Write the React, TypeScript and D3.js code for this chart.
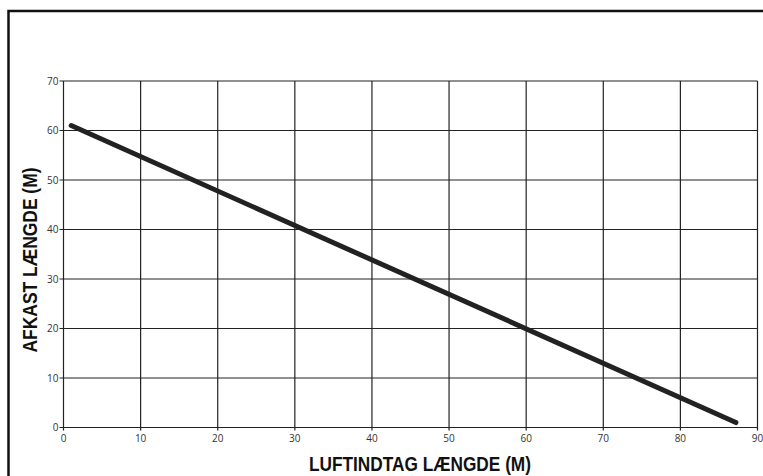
import * as React from 'react';
import * as d3 from 'd3';

const xTicks = [0, 10, 20, 30, 40, 50, 60, 70, 80, 90];
const yTicks = [0, 10, 20, 30, 40, 50, 60, 70];
const luftindtag = [1, 87.2];
const afkast = [61, 1];

const W = 763, H = 476;
const m = { left: 63.5, top: 81, right: 757.5, bottom: 427.5 };

export default function App() {
  const x = d3.scaleLinear().domain([0, 90]).range([m.left, m.right]);
  const y = d3.scaleLinear().domain([0, 70]).range([m.bottom, m.top]);
  const pts: [number, number][] = luftindtag.map((v, i) => [v, afkast[i]]);
  const line = d3.line<[number, number]>().x(d => x(d[0])).y(d => y(d[1]));
  const tickFont = { fontFamily: '"Open Sans", sans-serif', fontSize: 10, fill: '#333' };

  return (
    <svg width={W} height={H} style={{ position: 'absolute', left: 0, top: 0, background: '#fff' }}>
      <rect x={8.5} y={11} width={W + 10} height={H + 10} fill="none" stroke="#111" strokeWidth={2.5} />
      {xTicks.map(t => (
        <g key={'x' + t}>
          <line x1={x(t)} x2={x(t)} y1={m.top} y2={m.bottom + 3} stroke="#222" strokeWidth={1.2} />
          <text x={x(t)} y={m.bottom + 14} textAnchor="middle" {...tickFont}>{t}</text>
        </g>
      ))}
      {yTicks.map(t => (
        <g key={'y' + t}>
          <line x1={m.left - 4} x2={m.right} y1={y(t)} y2={y(t)} stroke="#222" strokeWidth={1.2} />
          <text x={m.left - 5} y={y(t) + 3.5} textAnchor="end" {...tickFont}>{t}</text>
        </g>
      ))}
      <path d={line(pts) || ''} fill="none" stroke="#222" strokeWidth={5} strokeLinecap="round" />
      <text x={420} y={471} textAnchor="middle" textLength={222} lengthAdjust="spacingAndGlyphs"
        fontFamily='"Liberation Sans", Arial, sans-serif' fontWeight="bold" fontSize={20} fill="#111">
        LUFTINDTAG LÆNGDE (M)
      </text>
      <text transform="translate(37,260) rotate(-90)" textAnchor="middle" textLength={185} lengthAdjust="spacingAndGlyphs"
        fontFamily='"Liberation Sans", Arial, sans-serif' fontWeight="bold" fontSize={20} fill="#111">
        AFKAST LÆNGDE (M)
      </text>
    </svg>
  );
}
